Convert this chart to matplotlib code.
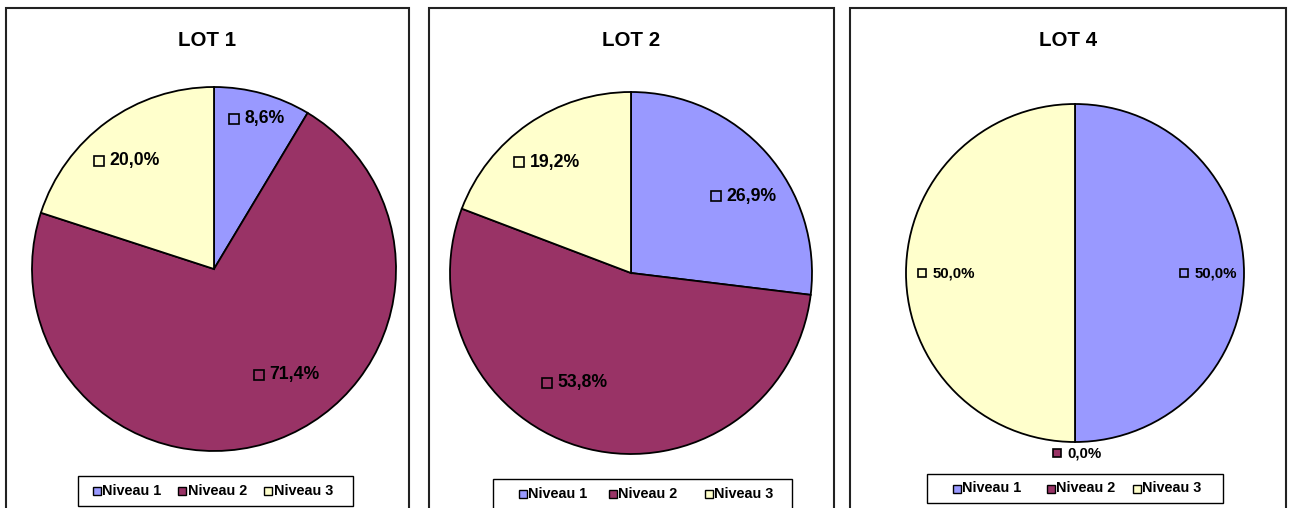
import matplotlib
matplotlib.use("Agg")
import matplotlib.pyplot as plt
from matplotlib.patches import Rectangle

plt.rcParams["font.family"] = ["Liberation Sans", "DejaVu Sans"]

# ---- data ----
lots = ["LOT 1", "LOT 2", "LOT 4"]
levels = ["Niveau 1", "Niveau 2", "Niveau 3"]
lot1_pct = [8.6, 71.4, 20.0]
lot2_pct = [26.9, 53.8, 19.2]
lot4_pct = [50.0, 0.0, 50.0]
series = [lot1_pct, lot2_pct, lot4_pct]
level_colors = ["#9999FF", "#993366", "#FFFFCC"]

# ---- layout (pixels, y measured downward) ----
W, H = 1293, 508
panels = [(6, 409), (429, 834), (850, 1286)]        # frame left/right
panel_top = 8
centers = [(214, 269), (631, 273), (1075, 273)]
radii = [182, 181, 169]
title_y = 41
label_size = [12.7, 12.7, 10.8]
marker_size = [6.5, 6.5, 5.4]
# label square position relative to each pie centre (dx, dy)
label_offsets = [
    [(20, -150), (45, 106), (-115, -108)],
    [(85, -77), (-84, 110), (-112, -111)],
    [(109, 0), (-18, 180), (-153, 0)],
]
# legend frames (x0, x1, y0, y1) and square x positions of each entry
legend_frames = [(78, 353, 476, 506), (493, 792, 479, 512), (927, 1223, 474, 503)]
legend_keys = [(96.5, 181.5, 267.5), (522.5, 612.5, 708.5), (956.5, 1050.5, 1136.5)]
legend_text_y = [491, 494, 488.5]

fig = plt.figure(figsize=(W / 100, H / 100), dpi=100)
ax = fig.add_axes([0, 0, 1, 1])


def fy(y):
    return H - y


for i, (lot, vals) in enumerate(zip(lots, series)):
    x0, x1 = panels[i]
    ax.add_patch(Rectangle((x0, fy(H + 20)), x1 - x0, H + 20 - panel_top,
                           facecolor="white", edgecolor="#222222", lw=1.5, zorder=0))
    cx, cy = centers[i]
    ax.pie(vals, colors=level_colors, startangle=90, counterclock=False,
           center=(cx, fy(cy)), radius=radii[i], frame=True,
           wedgeprops=dict(edgecolor="black", linewidth=1.3))
    ax.text((x0 + x1) / 2, fy(title_y), lot, ha="center", va="center",
            fontsize=14.8, fontweight="bold", color="black")
    for j, v in enumerate(vals):
        dx, dy = label_offsets[i][j]
        sx, sy = cx + dx, fy(cy + dy)
        ax.plot(sx, sy, marker="s", ms=marker_size[i],
                mfc=level_colors[j], mec="black", mew=1.2, zorder=5)
        ax.text(sx + 10.5, sy, f"{v:.1f}%".replace(".", ","), ha="left",
                va="center", fontsize=label_size[i], fontweight="bold",
                color="black", zorder=5)

    # legend
    lx0, lx1, ly0, ly1 = legend_frames[i]
    ax.add_patch(Rectangle((lx0, fy(ly1)), lx1 - lx0, ly1 - ly0,
                           facecolor="white", edgecolor="black", lw=1.0, zorder=6))
    ty = fy(legend_text_y[i])
    for j, name in enumerate(levels):
        kx = legend_keys[i][j]
        ax.plot(kx, ty, marker="s", ms=5.4, mfc=level_colors[j],
                mec="black", mew=1.0, zorder=7)
        ax.text(kx + 6, ty, name, ha="left", va="center", fontsize=10.4,
                fontweight="bold", color="black", zorder=7)

ax.set_xlim(0, W)
ax.set_ylim(0, H)
ax.set_aspect("equal")
ax.axis("off")

fig.savefig("out.png", dpi=100)
